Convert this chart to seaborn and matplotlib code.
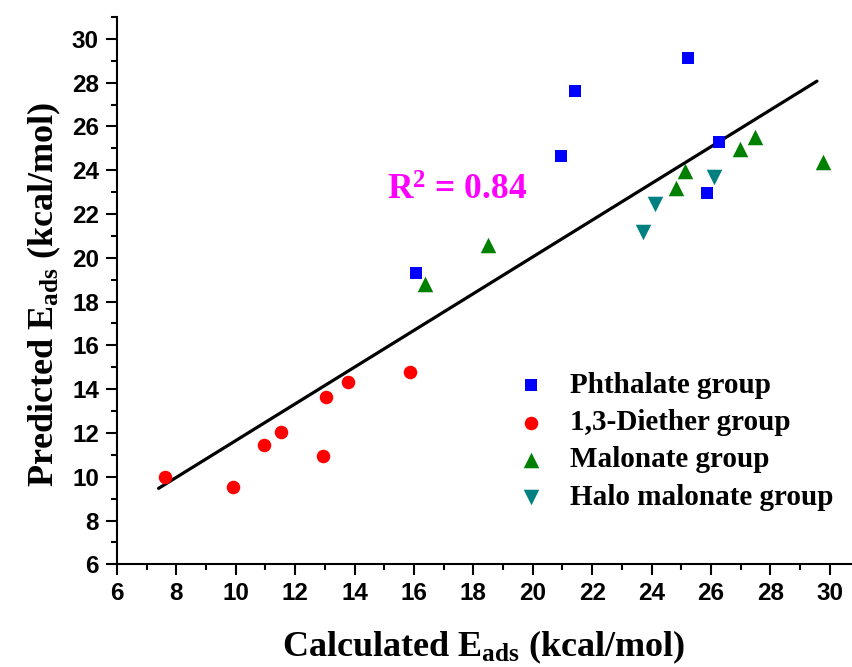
import numpy as np
import pandas as pd
import matplotlib
matplotlib.use("Agg")
import matplotlib.pyplot as plt
from matplotlib.ticker import MultipleLocator
import seaborn as sns

# ---- data ----
phthalate_x = [16.08, 20.95, 21.42, 25.22, 26.26, 25.88]
phthalate_y = [19.29, 24.64, 27.61, 29.15, 25.27, 22.97]

diether_x = [7.61, 9.89, 10.94, 11.52, 12.92, 13.03, 13.79, 15.88]
diether_y = [10.00, 9.52, 11.45, 12.03, 10.96, 13.65, 14.31, 14.79]

malonate_x = [16.36, 18.49, 24.82, 25.14, 26.99, 27.49, 29.77]
malonate_y = [18.79, 20.57, 23.21, 23.96, 24.96, 25.50, 24.36]

halo_x = [23.71, 24.10, 26.11]
halo_y = [21.19, 22.48, 23.70]

fit_x = [7.40, 29.57]
fit_y = [9.47, 28.07]

group_names = ["Phthalate group", "1,3-Diether group", "Malonate group", "Halo malonate group"]
x_ticks = [6, 8, 10, 12, 14, 16, 18, 20, 22, 24, 26, 28, 30]
y_ticks = [6, 8, 10, 12, 14, 16, 18, 20, 22, 24, 26, 28, 30]
r2_text = "R$^{\\mathbf{2}}$ = 0.84"

# ---- styling ----
sns.set_style("ticks")
plt.rcParams["font.family"] = ["Liberation Sans", "DejaVu Sans"]
plt.rcParams["mathtext.fontset"] = "custom"
plt.rcParams["mathtext.rm"] = "Liberation Serif:bold"
plt.rcParams["mathtext.bf"] = "Liberation Serif:bold"
plt.rcParams["mathtext.it"] = "Liberation Serif:bold"
for key in ["text.color", "axes.labelcolor", "xtick.color", "ytick.color",
            "axes.edgecolor", "xtick.labelcolor", "ytick.labelcolor"]:
    plt.rcParams[key] = "black"

colors = ["#0000FF", "#FF0000", "#008000", "#008080"]
markers = ["s", "o", "^", "v"]
sizes = [72, 95, 125, 125]

fig = plt.figure(figsize=(8.52, 6.67), dpi=100)
ax = fig.add_axes([117 / 852, 1 - 564.3 / 667, 1 - 117 / 852, (564.3 - 17) / 667])

groups = [(phthalate_x, phthalate_y), (diether_x, diether_y),
          (malonate_x, malonate_y), (halo_x, halo_y)]
for (gx, gy), name, c, m, s in zip(groups, group_names, colors, markers, sizes):
    df = pd.DataFrame({"x": gx, "y": gy})
    sns.scatterplot(data=df, x="x", y="y", ax=ax, color=c, marker=m, s=s,
                    linewidth=0, label=name, zorder=3)

sns.lineplot(x=fit_x, y=fit_y, ax=ax, color="black", linewidth=2.3, zorder=2)

ax.set_xlim(6, 30.75)
ax.set_ylim(6, 31)
ax.set_xticks(x_ticks)
ax.set_yticks(y_ticks)
ax.xaxis.set_minor_locator(MultipleLocator(1))
ax.yaxis.set_minor_locator(MultipleLocator(1))
ax.tick_params(which="major", direction="out", length=8, width=1.5, pad=5,
               labelsize=17.5, color="black", labelcolor="black")
ax.tick_params(which="minor", direction="out", length=4.5, width=1.5, color="black")
for lab in ax.get_xticklabels() + ax.get_yticklabels():
    lab.set_fontweight("bold")
    lab.set_family(["Liberation Sans", "DejaVu Sans"])
sns.despine(ax=ax)
for sp in ["left", "bottom"]:
    ax.spines[sp].set_linewidth(1.5)
    ax.spines[sp].set_color("black")
ax.set_xlabel("")
ax.set_ylabel("")

fig.text(484 / 852, 1 - 656 / 667, "Calculated E$_{\\mathbf{ads}}$ (kcal/mol)",
         ha="center", va="baseline", fontsize=26, fontweight="bold",
         family=["Liberation Serif", "DejaVu Serif"])
fig.text(53 / 852, 1 - 294 / 667, "Predicted E$_{\\mathbf{ads}}$ (kcal/mol)",
         ha="center", va="baseline", rotation=90, rotation_mode="anchor",
         fontsize=26, fontweight="bold", family=["Liberation Serif", "DejaVu Serif"])

ax.text(15.08, 22.63, r2_text, ha="left", va="baseline", color="#FF00FF",
        fontsize=25.5, fontweight="bold", family=["Liberation Serif", "DejaVu Serif"])

leg = ax.legend(loc="upper left", bbox_to_anchor=(516 / 852, 1 - 372 / 667),
                bbox_transform=fig.transFigure, frameon=False, borderpad=0,
                borderaxespad=0, handlelength=1.0, handletextpad=0.85,
                labelspacing=0.35, prop={"family": "Liberation Serif",
                                         "weight": "bold", "size": 21})
for t in leg.get_texts():
    t.set_color("black")

fig.savefig("out.png", dpi=100)
